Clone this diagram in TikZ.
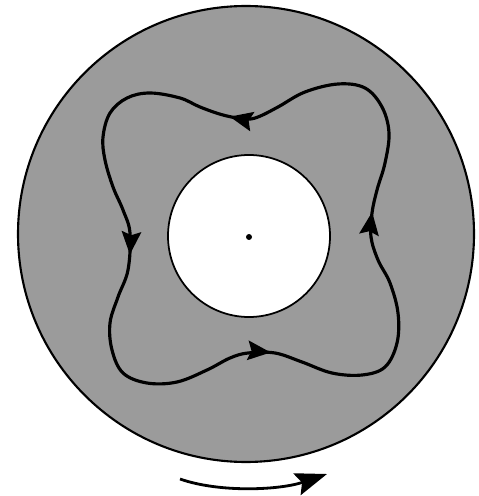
\documentclass[tikz,border=0pt]{standalone}
\usetikzlibrary{arrows.meta,decorations.markings}
\definecolor{halftone}{RGB}{155,155,155}
\tikzset{
  disk/.style={fill=halftone,draw=black,line width=1.2pt},
  hole/.style={fill=white,draw=black,line width=1pt},
  flowline/.style={draw=black,line width=1.8pt},
  tipmark/.style={decoration={markings,
    mark=at position 0.152 with {\arrow{Stealth[length=13pt,width=11pt,inset=2pt]}},
    mark=at position 0.403 with {\arrow{Stealth[length=13pt,width=11pt,inset=2pt]}},
    mark=at position 0.656 with {\arrow{Stealth[length=13pt,width=11pt,inset=2pt]}},
    mark=at position 0.904 with {\arrow{Stealth[length=13pt,width=11pt,inset=2pt]}}},
    postaction={decorate}},
  rotarrow/.style={draw=black,line width=1.6pt,-{Stealth[length=18pt,width=13pt,inset=3pt]}}
}
\begin{document}
\begin{tikzpicture}[x=0.02cm,y=-0.02cm]
\useasboundingbox (0,0) rectangle (478,496);
\coordinate (oc) at (246,234);
\coordinate (ic) at (249,236);
\path[disk] (oc) circle[radius=228];
\path[hole] (ic) circle[radius=81];
\fill[black] (249,237) circle[radius=3];
\draw[flowline,tipmark] plot[smooth cycle,tension=0.6] coordinates {
(150,93) (127,98) (110,113) (103,137) (105,160) (113,187) (123,210) (130,233)
(128,270) (118,297) (110,323) (112,350) (123,373) (147,383) (177,382) (207,370)
(230,358) (248,353) (275,353) (302,362) (332,373) (362,375) (385,367) (397,343)
(398,313) (390,283) (378,260) (371,237) (372,213) (377,190) (385,163) (389,133)
(382,107) (365,88) (338,84) (305,92) (278,107) (258,117) (245,119) (223,115)
(200,107) (180,98)};
\coordinate (rs) at (180,479);
\coordinate (re) at (327,474);
\draw[rotarrow] (rs) .. controls (220,493) and (280,490) .. (re);
\end{tikzpicture}
\end{document}
